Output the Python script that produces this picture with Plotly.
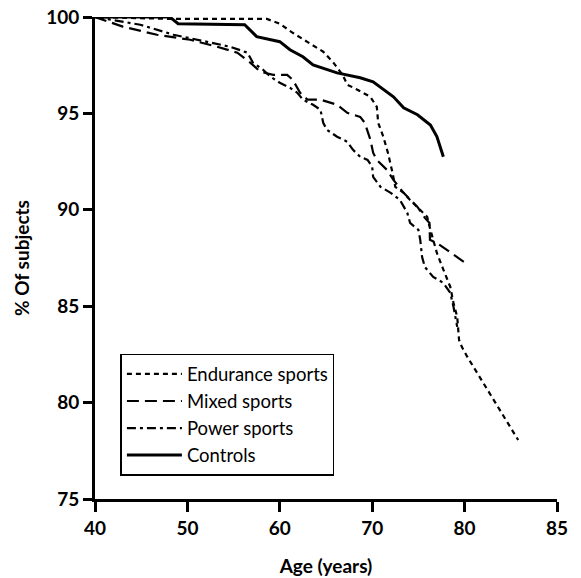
import plotly.graph_objects as go

# Age (years) and % of subjects
endurance_age = [40.0, 48.1, 57.8, 58.6, 60.0, 61.4, 64.7, 65.8, 66.8, 67.3, 68.4, 69.8, 70.5,
                 70.65, 71.2, 71.7, 72.2, 72.5, 73.4, 74.1, 75.2, 75.95, 76.3, 77.0, 77.7,
                 78.45, 78.8, 79.2, 79.4, 79.7, 80.3, 85.8]
endurance_pct = [100.0, 99.9, 99.9, 99.9, 99.65, 99.18, 98.2, 97.63, 97.0, 96.49, 96.23, 95.86,
                 95.34, 94.51, 93.79, 92.96, 91.92, 91.19, 90.88, 90.51, 89.99, 89.63, 88.96,
                 87.76, 86.9, 86.0, 85.17, 84.45, 83.25, 82.89, 82.37, 78.06]

mixed_age = [40.0, 43.0, 46.7, 50.3, 53.2, 55.4, 56.8, 57.9, 59.3, 60.8, 61.4, 62.2, 63.0,
             64.4, 66.2, 67.3, 68.7, 69.2, 69.8, 70.1, 70.5, 71.6, 72.3, 73.4, 74.9, 75.7,
             76.2, 76.25, 77.0, 80.1]
mixed_pct = [100.0, 99.5, 99.08, 98.82, 98.46, 98.15, 97.63, 97.16, 97.0, 97.0, 96.74, 96.07,
             95.71, 95.71, 95.45, 95.03, 94.82, 94.51, 93.64, 92.96, 92.59, 92.07, 91.55,
             90.88, 90.15, 89.58, 89.32, 88.44, 88.28, 87.24]

power_age = [40.0, 44.9, 48.5, 52.1, 54.6, 56.5, 57.1, 58.2, 59.0, 60.0, 61.1, 61.9, 62.5,
             63.6, 64.4, 64.7, 65.1, 66.2, 67.3, 67.9, 68.7, 69.5, 70.0, 70.1, 70.9, 72.0,
             73.0, 73.8, 74.1, 75.0, 75.2, 75.4, 75.7, 76.6, 77.7, 78.45, 78.8, 79.2]
power_pct = [100.0, 99.6, 99.08, 98.72, 98.46, 98.15, 97.63, 97.26, 96.9, 96.59, 96.33, 96.07,
             95.71, 95.45, 95.19, 94.51, 94.15, 93.79, 93.53, 93.12, 92.75, 92.59, 92.23,
             91.71, 91.19, 90.88, 90.51, 89.84, 89.32, 88.96, 88.44, 87.55, 87.03, 86.52,
             86.21, 85.69, 84.97, 83.93]

controls_age = [40.0, 48.1, 49.0, 56.2, 57.5, 60.0, 61.1, 62.5, 63.6, 66.2, 68.7, 70.1, 72.3,
                73.4, 74.9, 76.3, 77.0, 77.7]
controls_pct = [100.0, 100.0, 99.65, 99.6, 98.98, 98.72, 98.3, 97.94, 97.52, 97.1, 96.85,
                96.64, 95.86, 95.29, 94.93, 94.4, 93.8, 92.75]

x_tickvals = [40, 50, 60, 70, 80, 90]
x_ticktext = ["40", "50", "60", "70", "80", "85"]
y_tickvals = [75, 80, 85, 90, 95, 100]

FONT = "Lato"

fig = go.Figure()
fig.add_trace(go.Scatter(x=endurance_age, y=endurance_pct, mode="lines", name="Endurance sports",
                         line=dict(color="black", width=2.2, dash="5px,4px")))
fig.add_trace(go.Scatter(x=mixed_age, y=mixed_pct, mode="lines", name="Mixed sports",
                         line=dict(color="black", width=2.2, dash="12px,6px")))
fig.add_trace(go.Scatter(x=power_age, y=power_pct, mode="lines", name="Power sports",
                         line=dict(color="black", width=2.2, dash="9px,4px,3px,4px")))
fig.add_trace(go.Scatter(x=controls_age, y=controls_pct, mode="lines", name="Controls",
                         line=dict(color="black", width=3)))

fig.update_layout(
    width=581, height=578,
    margin=dict(l=95, r=24, t=17, b=79, autoexpand=False),
    paper_bgcolor="white", plot_bgcolor="white",
    font=dict(family=FONT, color="black", size=17),
    showlegend=True,
    legend=dict(x=0.055, y=0.301, xanchor="left", yanchor="top",
                bgcolor="white", bordercolor="black", borderwidth=1.5,
                font=dict(family=FONT, size=18.5, color="black"),
                itemwidth=55, tracegroupgap=0),
)
fig.update_xaxes(range=[40, 90], tickvals=x_tickvals, ticktext=x_ticktext, automargin=False,
                 showgrid=False, zeroline=False, showline=True, linecolor="black", linewidth=3,
                 ticks="outside", ticklen=10, tickwidth=3, tickcolor="black",
                 ticklabeloverflow="allow",
                 tickfont=dict(family=FONT, size=19, weight="bold"),
                 title=dict(text="Age (years)", font=dict(family=FONT, size=19, weight="bold"),
                            standoff=22))
fig.update_yaxes(range=[75, 100], tickvals=y_tickvals, automargin=False,
                 showgrid=False, zeroline=False, showline=True, linecolor="black", linewidth=3,
                 ticks="outside", ticklen=9, tickwidth=3, tickcolor="black",
                 ticklabeloverflow="allow",
                 tickfont=dict(family=FONT, size=19, weight="bold"),
                 title=dict(text="% Of subjects", font=dict(family=FONT, size=19, weight="bold"),
                            standoff=12))

fig.write_html("out.html", config={"displayModeBar": False},
               post_script="document.body.style.margin='0';")
